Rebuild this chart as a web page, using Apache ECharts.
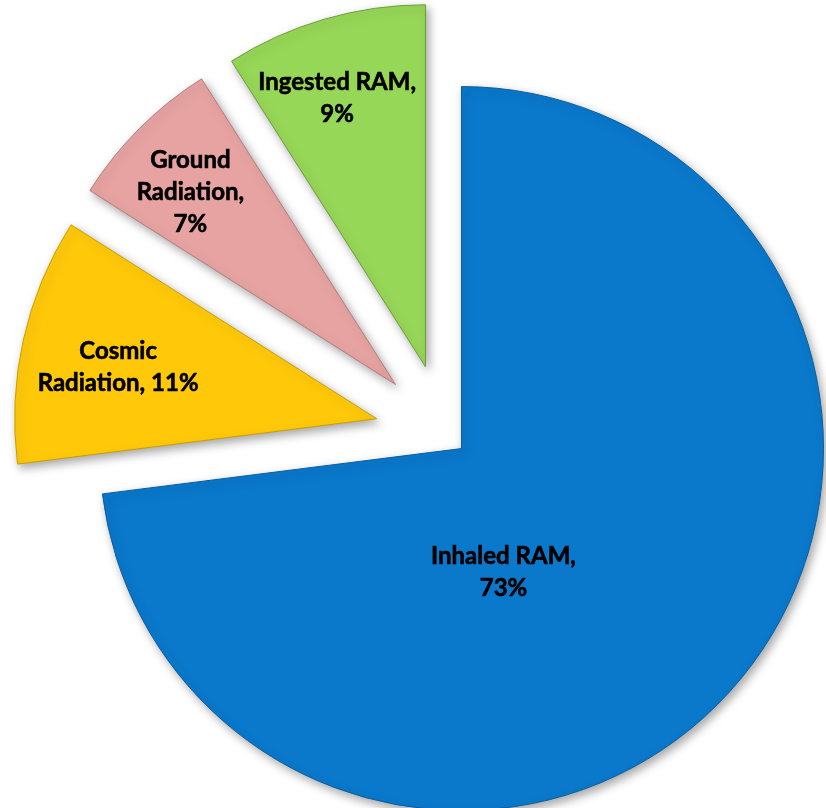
<!DOCTYPE html>
<html>
<head>
<meta charset="utf-8">
<script src="https://cdn.jsdelivr.net/npm/echarts@6/dist/echarts.min.js"></script>
<style>
html,body{margin:0;padding:0;background:#fff;}
#chart{width:826px;height:808px;}
</style>
</head>
<body>
<div id="chart"></div>
<script>
// ---- data ----
var categories = ['Inhaled RAM', 'Cosmic Radiation', 'Ground Radiation', 'Ingested RAM'];
var values = [73, 11, 7, 9];
var labelTexts = ['Inhaled RAM,\n73%', 'Cosmic\nRadiation, 11%', 'Ground\nRadiation,\n7%', 'Ingested RAM,\n9%'];
var sliceColors = ['#0A78CB', '#FFC90A', '#E6A3A2', '#97D757'];
var edgeColors = ['#0A5E9E', '#C9A000', '#B97B7A', '#6E9E3A'];

// label nudges (px) relative to default inside position
var labelShift = [[-96, 2], [-79, -11], [-75, -62], [-37, -92]];

var chart = echarts.init(document.getElementById('chart'), null, {renderer: 'canvas'});

function buildData(activeSet) {
  return categories.map(function (name, i) {
    var active = activeSet.indexOf(i) >= 0;
    var item = {name: name, value: values[i], selected: active};
    if (active) {
      item.itemStyle = {
        color: sliceColors[i],
        borderColor: edgeColors[i],
        borderWidth: 1,
        shadowColor: 'rgba(0,0,0,0.35)',
        shadowBlur: 10,
        shadowOffsetX: 3,
        shadowOffsetY: 4
      };
      item.label = {show: true, formatter: labelTexts[i]};
    } else {
      item.itemStyle = {color: 'rgba(0,0,0,0)', borderWidth: 0, shadowBlur: 0};
      item.label = {show: false};
    }
    return item;
  });
}

var commonSeries = {
  type: 'pie',
  center: [445, 434],
  radius: [0, 362],
  startAngle: 90,
  clockwise: true,
  selectedMode: 'multiple',
  avoidLabelOverlap: false,
  silent: true,
  animation: false,
  emphasis: {disabled: true},
  labelLine: {show: false},
  label: {
    position: 'inside',
    fontFamily: 'Lato',
    fontWeight: 'bold',
    fontSize: 24,
    lineHeight: 32,
    color: '#000',
    textBorderColor: '#000',
    textBorderWidth: 0.6,
    align: 'center'
  },
  labelLayout: function (params) {
    var s = labelShift[params.dataIndex];
    return {dx: s[0], dy: s[1], hideOverlap: false};
  }
};

var option = {
  backgroundColor: '#ffffff',
  series: [
    Object.assign({}, commonSeries, {
      selectedOffset: 70,
      data: buildData([1, 2, 3])
    }),
    Object.assign({}, commonSeries, {
      selectedOffset: 22,
      data: buildData([0])
    })
  ]
};

chart.setOption(option);
</script>
</body>
</html>
